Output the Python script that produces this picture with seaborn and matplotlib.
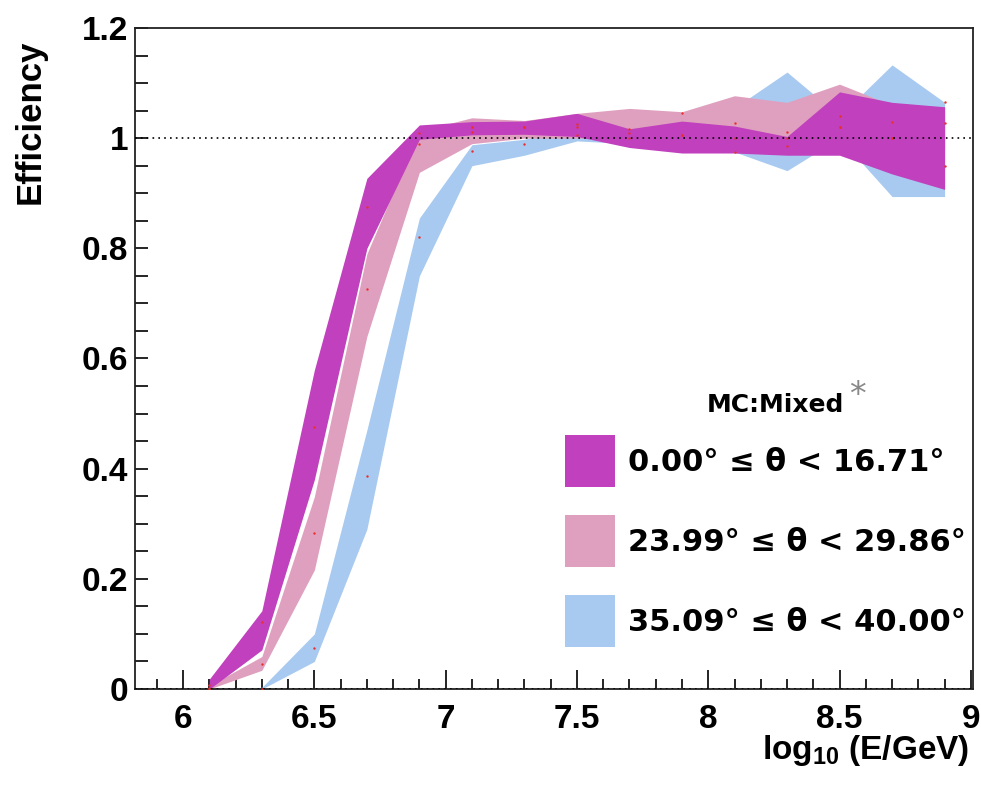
import matplotlib
matplotlib.use("Agg")
import matplotlib.pyplot as plt
import seaborn as sns
import numpy as np
import pandas as pd
from matplotlib.patches import Patch
from matplotlib.ticker import MultipleLocator, FuncFormatter

# bin centres in log10(E/GeV)
energy = [6.1, 6.3, 6.5, 6.7, 6.9, 7.1, 7.3, 7.5, 7.7, 7.9, 8.1, 8.3, 8.5, 8.7, 8.9]

# 0.00 <= theta < 16.71
mag_lo = [0.000, 0.071, 0.380, 0.800, 0.998, 1.006, 1.007, 1.003, 0.983, 0.973, 0.973, 0.969, 0.969, 0.935, 0.907]
mag_hi = [0.018, 0.142, 0.579, 0.927, 1.024, 1.030, 1.031, 1.045, 1.017, 1.031, 1.022, 1.003, 1.084, 1.065, 1.057]
mag_mid = [0.008, 0.122, 0.476, 0.875, 1.010, 1.011, 1.020, 1.025, 1.000, 1.006, 0.975, 0.986, 1.020, 1.000, 0.950]

# 23.99 <= theta < 29.86
pink_lo = [0.000, 0.034, 0.216, 0.640, 0.938, 0.990, 1.000, 1.000, 1.000, 0.995, 1.000, 1.000, 0.990, 0.990, 0.980]
pink_hi = [0.006, 0.059, 0.349, 0.790, 1.013, 1.037, 1.032, 1.045, 1.054, 1.048, 1.077, 1.065, 1.098, 1.060, 1.050]
pink_mid = [0.002, 0.045, 0.283, 0.726, 0.990, 1.020, 1.020, 1.020, 1.016, 1.045, 1.027, 1.011, 1.040, 1.030, 1.027]

# 35.09 <= theta < 40.00
blue_lo = [0.000, 0.000, 0.050, 0.290, 0.750, 0.950, 0.969, 0.995, 0.990, 0.980, 0.975, 0.941, 1.000, 0.894, 0.894]
blue_hi = [0.000, 0.003, 0.100, 0.470, 0.855, 0.988, 0.998, 1.020, 1.030, 1.030, 1.055, 1.120, 1.040, 1.133, 1.065]
blue_mid = [0.000, 0.000, 0.074, 0.387, 0.821, 0.977, 0.990, 1.006, 1.010, 1.006, 1.000, 1.000, 1.020, 1.000, 1.065]

labels = ["0.00\u00b0 \u2264 \u03b8 < 16.71\u00b0",
          "23.99\u00b0 \u2264 \u03b8 < 29.86\u00b0",
          "35.09\u00b0 \u2264 \u03b8 < 40.00\u00b0"]
colors = ["#C040BD", "#DFA0BF", "#A8CAF0"]

sns.set_style("white")
plt.rcParams["font.family"] = ["Liberation Sans", "DejaVu Sans"]
plt.rcParams["font.weight"] = "bold"
plt.rcParams["axes.labelweight"] = "bold"
plt.rcParams["text.color"] = "black"
plt.rcParams["axes.labelcolor"] = "black"
plt.rcParams["xtick.color"] = "black"
plt.rcParams["ytick.color"] = "black"
plt.rcParams["mathtext.fontset"] = "custom"
plt.rcParams["mathtext.rm"] = "Liberation Sans:bold"
plt.rcParams["mathtext.bf"] = "Liberation Sans:bold"
plt.rcParams["mathtext.it"] = "Liberation Sans:bold"

fig = plt.figure(figsize=(9.81, 7.86), dpi=100)
ax = fig.add_axes([0.1376, 0.1234, 0.8542, 0.841])

# bands, widest-angle first so the vertical one sits on top
bands = [(blue_lo, blue_hi, colors[2]), (pink_lo, pink_hi, colors[1]), (mag_lo, mag_hi, colors[0])]
for lo, hi, c in bands:
    ax.fill_between(energy, lo, hi, color=c, linewidth=0, zorder=2)

pts = pd.DataFrame({
    "energy": energy * 3,
    "eff": mag_mid + pink_mid + blue_mid,
})
sns.scatterplot(data=pts, x="energy", y="eff", ax=ax, color="#e8302a", s=3,
                linewidth=0, legend=False, zorder=4)

ax.axhline(1.0, color="black", lw=1.2, linestyle=(0, (1, 2.5)), zorder=5)
ax.axhline(0.0, color="black", lw=1.2, linestyle=(0, (1, 2.5)), zorder=5)

ax.set_xlim(5.817, 9.008)
ax.set_ylim(0, 1.2)
ax.xaxis.set_major_locator(MultipleLocator(0.5))
ax.xaxis.set_minor_locator(MultipleLocator(0.1))
ax.yaxis.set_major_locator(MultipleLocator(0.2))
ax.yaxis.set_minor_locator(MultipleLocator(0.05))
fmt = FuncFormatter(lambda v, p: "%g" % round(v, 2))
ax.xaxis.set_major_formatter(fmt)
ax.yaxis.set_major_formatter(fmt)

ax.tick_params(axis="both", which="both", direction="in", top=False, right=False,
               bottom=True, left=True, width=1.2, color="black")
ax.tick_params(axis="x", which="major", length=13.5, labelsize=24, pad=11)
ax.tick_params(axis="x", which="minor", length=7)
ax.tick_params(axis="y", which="both", length=9.4, labelsize=24, pad=5)
for s in ax.spines.values():
    s.set_linewidth(1.3)
    s.set_color("#222222")

ax.set_xlabel(r"log$_{\mathbf{10}}$ (E/GeV)", fontsize=24, fontweight="bold", loc="right")
ax.xaxis.set_label_coords(0.996, -0.066)
ax.set_ylabel("Efficiency", fontsize=25, fontweight="bold", loc="top")
ax.yaxis.set_label_coords(-0.105, 0.982)

handles = [Patch(facecolor=c, edgecolor="none") for c in colors]
ax.legend(handles, labels, loc="upper left", bbox_to_anchor=(565 / 981, 1 - 435 / 786),
          bbox_transform=fig.transFigure, frameon=False,
          prop={"family": "DejaVu Sans", "weight": "bold", "size": 22},
          handlelength=1.63, handleheight=2.24, labelspacing=0.92,
          handletextpad=0.42, borderpad=0, borderaxespad=0)

fig.text(775 / 981, 1 - 405 / 786, "MC:Mixed", ha="center", va="center",
         family="DejaVu Sans", weight="bold", fontsize=18)
fig.text(857 / 981, 1 - 396 / 786, "*", ha="center", va="center",
         family="DejaVu Sans", weight="normal", fontsize=24, color="#888888")

fig.savefig("out.png", dpi=100)
